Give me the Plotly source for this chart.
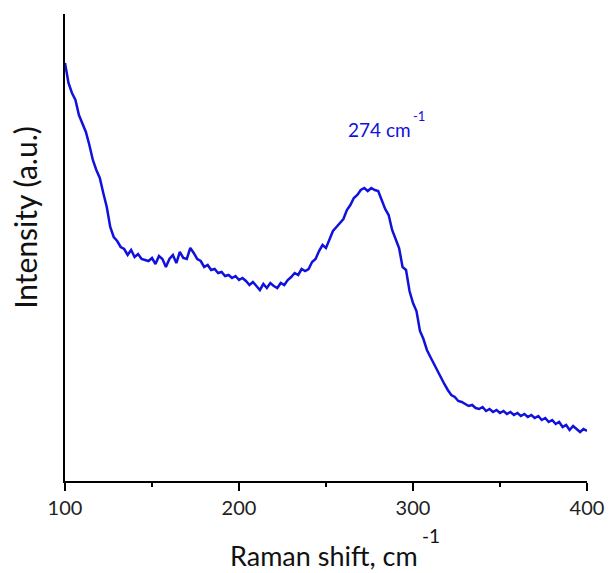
import plotly.graph_objects as go

raman_shift = list(range(100, 401, 2))
intensity = [
    418, 398, 388, 381, 366, 358, 349, 336, 321, 311,
    303, 288, 274, 254, 244, 240, 234, 232, 226, 231,
    224, 227, 222, 221, 220, 223, 217, 225, 222, 214,
    222, 226, 218, 229, 223, 222, 233, 228, 222, 220,
    214, 216, 211, 212, 208, 209, 205, 206, 203, 205,
    201, 203, 200, 196, 199, 195, 191, 197, 193, 198,
    195, 193, 198, 196, 201, 204, 208, 206, 212, 210,
    212, 219, 222, 230, 236, 233, 242, 250, 254, 258,
    262, 271, 276, 283, 286, 291, 293, 290, 293, 291,
    290, 281, 272, 266, 251, 242, 233, 214, 211, 190,
    178, 170, 150, 142, 131, 124, 117, 110, 104, 97,
    91, 86, 84, 80, 79, 77, 75, 76, 73, 72,
    74, 70, 72, 69, 71, 68, 70, 67, 69, 66,
    68, 65, 67, 64, 66, 63, 65, 61, 63, 59,
    61, 57, 59, 54, 56, 51, 55, 52, 49, 52,
    50,
]
x_ticks = [100, 200, 300, 400]
peak_label = "274 cm"

FONT = "Lato"
BLUE = "rgb(17,17,221)"

fig = go.Figure()
fig.add_trace(go.Scatter(x=raman_shift, y=intensity, mode="lines",
                         line=dict(color=BLUE, width=2.5), showlegend=False))

fig.update_layout(
    width=616, height=573,
    margin=dict(l=65, r=20, t=14, b=92),
    paper_bgcolor="white", plot_bgcolor="white",
    font=dict(family=FONT, color="#222"),
    xaxis=dict(range=[100, 400], tickvals=x_ticks, ticks="outside", ticklen=8,
               tickwidth=1.5, tickcolor="black", showline=True, linecolor="black",
               linewidth=1.5, showgrid=False, zeroline=False,
               tickfont=dict(size=20, family=FONT, color="#222"),
               ticklabeloverflow="allow",
               minor=dict(dtick=50, ticks="outside", ticklen=4, tickcolor="black",
                          tickwidth=1.5, showgrid=False)),
    yaxis=dict(range=[0, 467], showticklabels=False, ticks="", showline=True,
               linecolor="black", linewidth=1.5, showgrid=False, zeroline=False),
    annotations=[
        dict(text="Raman shift, cm", xref="paper", yref="paper", x=0.496, y=-0.1585,
             showarrow=False, font=dict(size=27, family=FONT, color="#111"),
             xanchor="center", yanchor="middle"),
        dict(text="-1", xref="paper", yref="paper", x=0.7006, y=-0.1167,
             showarrow=False, font=dict(size=19, family=FONT, color="#111"),
             xanchor="center", yanchor="middle"),
        dict(text="Intensity (a.u.)", xref="paper", yref="paper", x=-0.0772, y=0.565,
             textangle=-90, showarrow=False, font=dict(size=30, family=FONT, color="#111"),
             xanchor="center", yanchor="middle"),
        dict(text=peak_label, x=280.5, y=352, showarrow=False,
             font=dict(size=19, family=FONT, color=BLUE), xanchor="center", yanchor="middle"),
        dict(text="-1", x=303.5, y=365, showarrow=False,
             font=dict(size=13, family=FONT, color=BLUE), xanchor="center", yanchor="middle"),
    ],
)

fig.write_html("out.html")
